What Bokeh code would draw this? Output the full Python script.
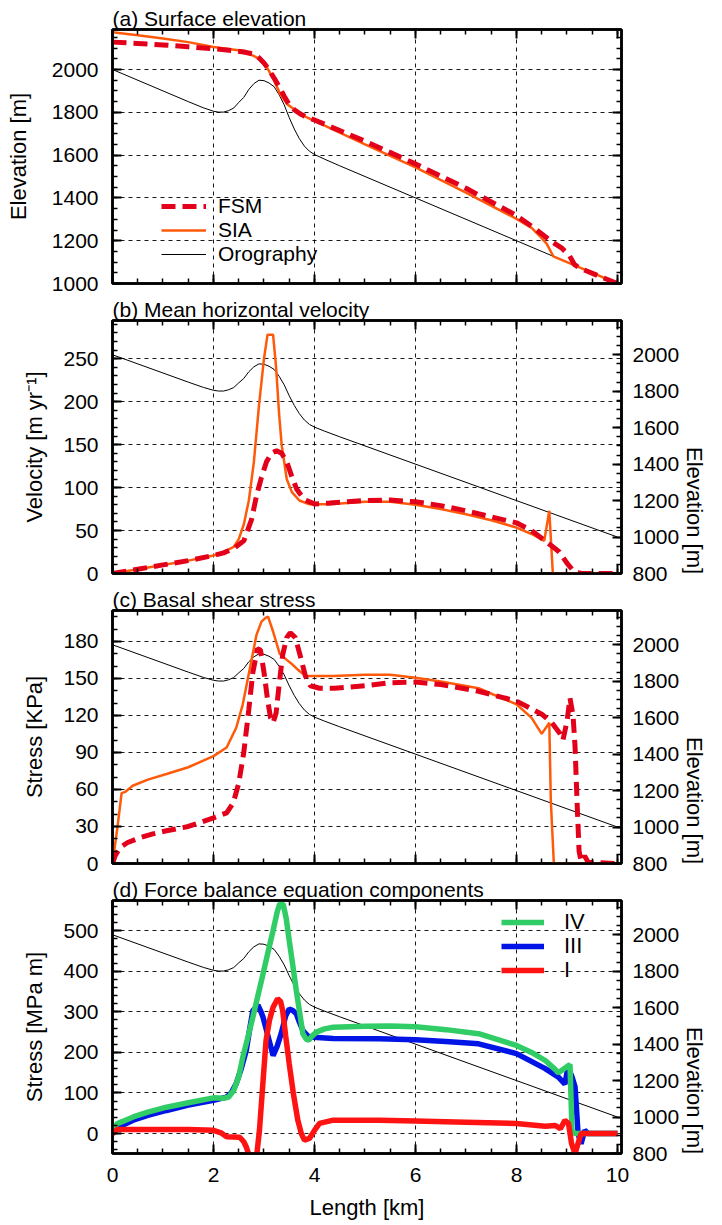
import math
from bokeh.plotting import figure
from bokeh.models import (Range1d, LinearAxis, FixedTicker, Legend, LegendItem,
                          CustomLabelingPolicy)
from bokeh.layouts import column
from bokeh.embed import file_html
from bokeh.resources import INLINE

# ---------------- data ----------------
# Orography [m]
oro_x = [0, 1.5, 1.8, 2.0, 2.1, 2.2, 2.3, 2.4, 2.5, 2.6, 2.7, 2.8, 2.9, 3.0, 3.1, 3.2,
         3.3, 3.4, 3.5, 3.6, 3.7, 3.8, 3.9, 4.0, 4.2, 4.5, 10]
oro_z = [2000, 1850, 1821, 1805, 1801, 1801, 1808, 1820, 1846, 1870, 1907, 1934, 1950, 1948,
         1937, 1920, 1882, 1835, 1775, 1722, 1677, 1642, 1618, 1603, 1581, 1550, 1000]

# (a) surface elevation [m]
fsm_elev_x = [0, 0.5, 1, 1.5, 2, 2.4, 2.6, 2.8, 2.9, 3.0, 3.1, 3.2, 3.3, 3.4, 3.5, 3.6, 3.72,
              3.85, 4.0, 5.0, 6.0, 7.0, 8.0, 8.4, 8.7, 8.9, 9.05, 9.15, 9.25, 9.6, 10]
fsm_elev = [2128, 2122, 2115, 2106, 2097, 2088, 2082, 2072, 2055, 2031, 1998, 1960, 1920, 1875,
            1836, 1812, 1792, 1777, 1764, 1665, 1559, 1445, 1318, 1250, 1195, 1165, 1130, 1088,
            1072, 1038, 1000]
sia_elev_x = [0, 0.5, 1, 1.5, 2, 2.3, 2.6, 2.86, 2.96, 3.06, 3.19, 3.32, 3.46, 3.59, 3.85, 4.0,
              5.0, 6.0, 7.0, 8.0, 8.3, 8.5, 8.6, 8.73, 9.0, 10]
sia_elev = [2174, 2160, 2145, 2128, 2105, 2096, 2087, 2056, 2035, 2009, 1955, 1885, 1838, 1815,
            1776, 1760, 1650, 1543, 1425, 1302, 1260, 1212, 1185, 1127, 1100, 1000]

# (b) mean horizontal velocity [m/yr]
fsm_vel_x = [0, 0.5, 1, 1.5, 2, 2.2, 2.4, 2.6, 2.75, 2.85, 2.95, 3.05, 3.15, 3.25, 3.35, 3.45,
             3.55, 3.65, 3.8, 4.0, 4.3, 5.0, 5.5, 6.0, 6.5, 7.0, 7.5, 8.0, 8.3, 8.5, 8.7, 8.85,
             9.0, 9.1, 9.2, 9.3, 10]
fsm_vel = [0, 5, 10, 15, 21, 24, 29, 38, 62, 90, 112, 130, 140, 143, 140, 130, 113, 98, 86, 81,
           82, 85, 85.5, 83.5, 79, 73, 66, 59, 50, 41, 32, 25, 12, 5, 1, 0, 0]
sia_vel_x = [0, 0.5, 1, 1.5, 2, 2.2, 2.4, 2.5, 2.6, 2.7, 2.8, 2.9, 3.0, 3.07, 3.18, 3.24, 3.3,
             3.35, 3.45, 3.55, 3.7, 3.9, 4.3, 5.0, 5.5, 6.0, 6.5, 7.0, 7.5, 8.0, 8.3, 8.55, 8.65,
             8.72, 10]
sia_vel = [0, 5, 10, 15, 21, 25, 31, 40, 57, 85, 130, 195, 250, 278, 278, 240, 185, 150, 110, 95,
           85, 80.5, 80.5, 83.5, 83.5, 80, 75, 69, 62, 53.5, 46, 38, 73, 0, 0]

# (c) basal shear stress [kPa]
fsm_tau_x = [0, 0.05, 0.15, 0.3, 0.55, 0.8, 1.07, 1.5, 2.0, 2.26, 2.39, 2.5, 2.6, 2.7, 2.78,
             2.87, 2.93, 3.0, 3.07, 3.13, 3.18, 3.24, 3.3, 3.37, 3.45, 3.52, 3.62, 3.72, 3.82,
             3.92, 4.1, 4.4, 5.0, 5.5, 6.0, 6.5, 7.25, 8.0, 8.5, 8.7, 8.85, 8.92, 9.0, 9.06,
             9.12, 9.16, 9.2, 9.24, 9.28, 9.35, 9.42, 10]
fsm_tau = [0, 6, 13, 17, 21, 24, 26.5, 30, 37, 41, 49, 65, 90, 125, 155, 174, 173, 155, 133, 118,
           114, 122, 145, 169, 183, 187, 183, 168, 152, 144, 142, 142, 144, 146.5, 147, 145,
           139.6, 131.6, 121, 114, 106, 100, 115, 134, 120, 95, 50, 10, 2, 6, 1, 0]
sia_tau_x = [0, 0.1, 0.18, 0.25, 0.4, 0.7, 1.07, 1.5, 2.0, 2.26, 2.45, 2.58, 2.72, 2.85, 2.95,
             3.03, 3.08, 3.18, 3.31, 3.45, 3.57, 3.7, 3.83, 4.37, 5.0, 5.5, 6.0, 6.5, 7.25, 8.0,
             8.3, 8.5, 8.65, 8.68, 8.74, 10]
sia_tau = [0, 30, 57, 58, 63, 68, 72.5, 78, 87, 94, 110, 129, 158, 185, 196, 199, 200, 188, 170,
           165, 161, 156, 152, 152, 153, 153, 150.5, 147.5, 142, 129, 118, 105, 114, 51, 0, 0]

# (d) force balance components [MPa m]
iv_x = [0, 0.05, 0.1, 0.2, 0.41, 0.7, 1.07, 1.5, 2.0, 2.2, 2.3, 2.4, 2.5, 2.58, 2.68, 2.78,
        2.88, 2.98, 3.08, 3.18, 3.26, 3.31, 3.38, 3.44, 3.5, 3.57, 3.64, 3.71, 3.77, 3.84, 3.89,
        3.95, 4.04, 4.2, 4.37, 5.0, 5.5, 6.0, 6.6, 7.25, 8.0, 8.3, 8.57, 8.75, 8.83, 8.9, 8.97,
        9.06, 9.1, 9.16, 10]
iv = [0, 18, 25, 30, 41, 53, 65, 76, 88, 87, 90, 106, 140, 188, 237, 287, 340, 393, 447, 500,
      545, 565, 565, 530, 475, 415, 352, 295, 246, 232, 230, 240, 250, 258, 262, 264.6, 265, 263,
      256, 246, 217, 200, 180, 160, 150, 156, 162, 170, 8, 0, 0]
iii_x = [0, 0.1, 0.41, 0.7, 1.07, 1.5, 2.0, 2.26, 2.35, 2.45, 2.55, 2.65, 2.72, 2.78, 2.88, 2.94,
         2.98, 3.08, 3.18, 3.26, 3.34, 3.43, 3.5, 3.57, 3.64, 3.7, 3.77, 3.87, 3.97, 4.37, 5.28,
         6.0, 6.6, 7.25, 8.0, 8.57, 8.83, 8.96, 9.02, 9.1, 9.16, 9.22, 9.28, 9.35, 9.42, 10]
iii = [0, 15, 33, 45, 57, 70, 82, 90, 100, 123, 160, 205, 260, 303, 316, 300, 287, 240, 192, 215,
       246, 290, 307, 303, 295, 275, 254, 240, 237, 234, 233.6, 231, 227, 221, 197, 160, 139, 122,
       164, 140, 115, 0, -25, 8, 0, 0]
i_x = [0, 0.09, 1.07, 1.5, 2.0, 2.15, 2.26, 2.52, 2.6, 2.65, 2.72, 2.85, 2.91, 2.97, 3.04, 3.11,
       3.18, 3.27, 3.33, 3.37, 3.43, 3.5, 3.58, 3.67, 3.74, 3.8, 3.9, 4.0, 4.1, 4.37, 5.28, 6.0,
       7.0, 8.0, 8.57, 8.77, 8.87, 8.96, 9.03, 9.09, 9.16, 9.22, 9.28, 10]
i_c = [0, 10, 10, 10, 8, 2, -8, -9, -20, -33, -60, -60, 8, 110, 229, 280, 311, 332, 325, 303, 240,
       172, 100, 33, 0, -16, -12, 8, 25, 33, 33, 31, 28, 25, 18, 20, 12, 33, 25, -24, -50, -24, 0, 0]

panel_titles = ["(a) Surface elevation", "(b) Mean horizontal velocity",
                "(c) Basal shear stress", "(d) Force balance equation components"]
y_labels = ["Elevation [m]", "Velocity [m yr\u207b\u00b9]", "Stress [KPa]", "Stress [MPa m]"]
legend_a = ["FSM", "SIA", "Orography"]
legend_d = ["IV", "III", "I"]
x_ticks = [0, 2, 4, 6, 8, 10]

# ---------------- styling ----------------
FONT = "Liberation Sans"
RED = "#e3001b"
ORANGE = "#ff5a0a"
GREEN = "#30cc66"
BLUE = "#0014e6"
PURE_RED = "#ff1212"
X_MINOR = [i * 0.5 for i in range(21)]
ELEV_MAJOR = list(range(800, 2001, 200))
ELEV_MINOR = list(range(800, 2200, 50))
NO_LABELS = "for (const i of indices) { indices.unset(i) }"


def style_axis(ax, major, minor, show_labels, label=None, label_standoff=15, tick_standoff=12):
    ax.ticker = FixedTicker(ticks=major, minor_ticks=minor)
    ax.axis_line_width = 2.5
    ax.axis_line_color = "black"
    ax.major_tick_in = 9
    ax.major_tick_out = 0
    ax.minor_tick_in = 5
    ax.minor_tick_out = 0
    ax.major_tick_line_width = 2
    ax.minor_tick_line_width = 1.5
    ax.major_tick_line_color = "black"
    ax.minor_tick_line_color = "black"
    if show_labels:
        ax.major_label_text_font_size = "21px"
        ax.major_label_text_font = FONT
        ax.major_label_text_color = "black"
        ax.major_label_standoff = tick_standoff
    else:
        ax.major_label_text_font_size = "0px"
        ax.major_label_standoff = 0
        ax.major_label_policy = CustomLabelingPolicy(code=NO_LABELS)
    if label is not None:
        ax.axis_label = label
        ax.axis_label_text_font = FONT
        ax.axis_label_text_font_size = "22px"
        ax.axis_label_text_font_style = "normal"
        ax.axis_label_text_color = "black"
        ax.axis_label_standoff = label_standoff


def make_panel(title, height, top_border, bottom_border, yr, ymajor, yminor, ylabel,
               right_elev, xlabels=False, ylab_standoff=13):
    p = figure(width=722, height=height, x_range=Range1d(0, 10.08), y_range=Range1d(*yr),
               output_backend="svg", toolbar_location=None,
               min_border_left=112, min_border_right=101, min_border_top=top_border,
               min_border_bottom=bottom_border)
    p.title.text = title
    p.title.text_font = FONT
    p.title.text_font_size = "21px"
    p.title.text_font_style = "normal"
    p.title.text_color = "black"
    p.title.standoff = 0
    p.title.offset = 0
    p.outline_line_color = "black"
    p.outline_line_width = 2.5
    p.background_fill_color = "white"
    p.border_fill_color = "white"

    style_axis(p.below[0], x_ticks, X_MINOR, xlabels, "Length [km]" if xlabels else None,
               10, 14)
    style_axis(p.left[0], ymajor, yminor, True, ylabel, ylab_standoff, 14)
    top = LinearAxis()
    style_axis(top, x_ticks, X_MINOR, False)
    p.add_layout(top, "above")

    if right_elev:
        p.extra_y_ranges = {"elev": Range1d(800, 2188)}
        rax = LinearAxis(y_range_name="elev")
        style_axis(rax, ELEV_MAJOR, ELEV_MINOR, True, "Elevation [m]", 12, 11)
        rax.axis_label_orientation = -math.pi / 2
        p.add_layout(rax, "right")
    else:
        rax = LinearAxis()
        style_axis(rax, ymajor, yminor, False)
        p.add_layout(rax, "right")

    p.xgrid.ticker = FixedTicker(ticks=[2, 4, 6, 8])
    p.ygrid.ticker = FixedTicker(ticks=ymajor)
    p.grid.grid_line_color = "black"
    p.grid.grid_line_dash = "4 4"
    p.grid.grid_line_width = 1
    p.grid.grid_line_alpha = 0.9
    return p


def legend_entry(p, label, renderer, loc, gw, standoff, size):
    lg = Legend(items=[LegendItem(label=label, renderers=[renderer])], location=loc,
                glyph_width=gw, glyph_height=20, label_standoff=standoff, padding=0,
                spacing=0, margin=0, label_text_font=FONT, label_text_font_size=size,
                label_text_color="black", border_line_alpha=0, background_fill_alpha=0)
    p.add_layout(lg)


# (a)
pa = make_panel(panel_titles[0], 295, 29, 12, (1000, 2187), list(range(1000, 2001, 200)),
                list(range(1000, 2200, 50)), y_labels[0], False, ylab_standoff=18)
r_oro_a = pa.line(oro_x, oro_z, color="black", line_width=1)
r_sia_a = pa.line(sia_elev_x, sia_elev, color=ORANGE, line_width=2.5)
r_fsm_a = pa.line(fsm_elev_x, fsm_elev, color=RED, line_width=5, line_dash="14 7")
legend_entry(pa, legend_a[0], r_fsm_a, (49, 65), 45, 12, "21px")
legend_entry(pa, legend_a[1], r_sia_a, (49, 41), 45, 12, "21px")
legend_entry(pa, legend_a[2], r_oro_a, (49, 17), 45, 12, "21px")

# (b)
pb = make_panel(panel_titles[1], 290, 24, 12, (0, 294.5), list(range(0, 251, 50)),
                list(range(0, 300, 10)), y_labels[1], True)
pb.line(oro_x, oro_z, color="black", line_width=1, y_range_name="elev")
pb.line(sia_vel_x, sia_vel, color=ORANGE, line_width=2.5)
pb.line(fsm_vel_x, fsm_vel, color=RED, line_width=5, line_dash="14 7")

# (c)
pc = make_panel(panel_titles[2], 290, 24, 12, (0, 205), list(range(0, 181, 30)),
                list(range(0, 210, 10)), y_labels[2], True)
pc.line(oro_x, oro_z, color="black", line_width=1, y_range_name="elev")
pc.line(sia_tau_x, sia_tau, color=ORANGE, line_width=2.5)
pc.line(fsm_tau_x, fsm_tau, color=RED, line_width=5, line_dash="14 7")

# (d)
pd_ = make_panel(panel_titles[3], 350, 24, 72, (-49, 574), list(range(0, 501, 100)),
                 list(range(-40, 580, 20)), y_labels[3], True, xlabels=True)
pd_.line(oro_x, oro_z, color="black", line_width=1, y_range_name="elev")
r_iii = pd_.line(iii_x, iii, color=BLUE, line_width=5.5)
r_iv = pd_.line(iv_x, iv, color=GREEN, line_width=5.5)
r_i = pd_.line(i_x, i_c, color=PURE_RED, line_width=5.5)
legend_entry(pd_, legend_d[0], r_iv, (389, 218), 43, 20, "22px")
legend_entry(pd_, legend_d[1], r_iii, (389, 194), 43, 20, "22px")
legend_entry(pd_, legend_d[2], r_i, (389, 170), 43, 20, "22px")

layout = column(pa, pb, pc, pd_, spacing=0)
open("out.html", "w").write(file_html(layout, INLINE))
